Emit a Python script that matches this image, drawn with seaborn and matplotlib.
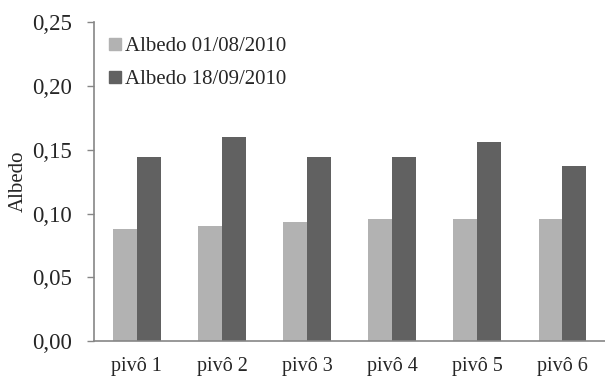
import matplotlib
matplotlib.use("Agg")
import matplotlib.pyplot as plt
from matplotlib.lines import Line2D
from matplotlib.ticker import FixedLocator
import seaborn as sns
import pandas as pd

categories = ["pivô 1", "pivô 2", "pivô 3", "pivô 4", "pivô 5", "pivô 6"]
series_names = ["Albedo 01/08/2010", "Albedo 18/09/2010"]
albedo_0108 = [0.088, 0.090, 0.0935, 0.0955, 0.096, 0.0955]
albedo_1809 = [0.1445, 0.160, 0.1445, 0.144, 0.156, 0.137]
y_ticks = [0.00, 0.05, 0.10, 0.15, 0.20, 0.25]
colors = ["#b2b2b2", "#616161"]

df = pd.DataFrame({
    "pivo": categories * 2,
    "serie": [series_names[0]] * len(categories) + [series_names[1]] * len(categories),
    "albedo": albedo_0108 + albedo_1809,
})

sns.set_style("white")
plt.rcParams["font.family"] = ["Liberation Serif", "DejaVu Serif"]

fig = plt.figure(figsize=(6.05, 3.76), dpi=100)
ax = fig.add_axes([0.156, 0.0923, 0.844, 0.8497])

sns.barplot(data=df, x="pivo", y="albedo", hue="serie", palette=colors,
            width=0.5625, saturation=1, linewidth=0, ax=ax, legend=False)

ax.set_ylim(0, 0.25)
ax.set_xlim(-0.5, len(categories) - 0.5)
ax.set_yticks(y_ticks)
ax.set_yticklabels([f"{t:.2f}".replace(".", ",") for t in y_ticks], fontsize=16.5)
ax.set_xticks(range(len(categories)))
ax.set_xticklabels(categories, fontsize=14.5)
ax.xaxis.set_minor_locator(FixedLocator([i - 0.5 for i in range(len(categories) + 1)]))
ax.tick_params(axis="x", which="major", length=0, pad=11)
ax.tick_params(axis="x", which="minor", length=5, width=1, color="#868686", direction="out")
ax.tick_params(axis="y", length=5, width=1, color="#868686", direction="out", pad=11, left=True)
ax.set_xlabel("")
ax.set_ylabel("Albedo", fontsize=15, labelpad=3)

for side in ["top", "right"]:
    ax.spines[side].set_visible(False)
for side in ["left", "bottom"]:
    ax.spines[side].set_color("#868686")
    ax.spines[side].set_linewidth(1.2)

handles = [Line2D([0], [0], marker="s", linestyle="none", markersize=8.5,
                  markerfacecolor=c, markeredgecolor=c) for c in colors]
ax.legend(handles, series_names, loc="upper left", bbox_to_anchor=(0.0, 1.0),
          frameon=False, fontsize=15, handlelength=0.6, handletextpad=0.15,
          labelspacing=0.65, borderaxespad=0.3)

fig.savefig("out.png", dpi=100)
